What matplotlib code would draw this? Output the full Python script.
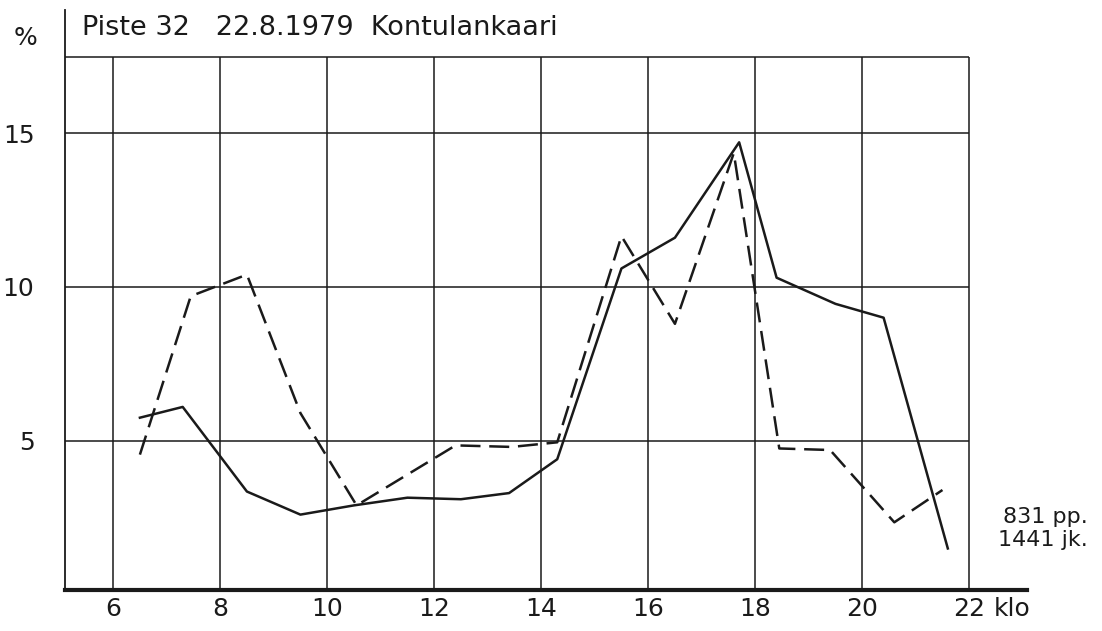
import numpy as np
import matplotlib.pyplot as plt
import matplotlib

# hourly shares (%)
hours_solid = [6.5, 7.3, 8.5, 9.5, 10.5, 11.5, 12.5, 13.4, 14.3, 15.5, 16.5, 17.7, 18.4, 19.5, 20.4, 21.6]
pct_solid = [5.75, 6.1, 3.35, 2.6, 2.9, 3.15, 3.1, 3.3, 4.4, 10.6, 11.6, 14.7, 10.3, 9.45, 9.0, 1.5]

hours_dash = [6.5, 7.45, 8.5, 9.5, 10.55, 12.4, 13.45, 14.3, 15.5, 16.5, 17.6, 18.45, 19.4, 20.6, 21.5]
pct_dash = [4.55, 9.7, 10.4, 5.9, 2.9, 4.85, 4.8, 4.95, 11.65, 8.8, 14.35, 4.75, 4.7, 2.35, 3.4]

xticks = [6, 8, 10, 12, 14, 16, 18, 20, 22]
yticks = [5, 10, 15]

font = {'size': 18, 'family': ['DejaVu Sans']}
matplotlib.rc('font', **font)

fig = plt.figure(figsize=(11.02, 6.31), dpi=100)
ax = fig.add_axes([65 / 1102, 1 - 590 / 631, (1027 - 65) / 1102, 580 / 631])

ax.set_xlim(5.1, 23.08)
ax.set_ylim(0.15, 19.0)

ink = '#1a1a1a'
# grid frame
ax.hlines(yticks + [17.47], 5.1, 22, color=ink, lw=1.1)
ax.vlines(xticks, 0.15, 17.47, color=ink, lw=1.1)

ax.plot(hours_solid, pct_solid, color=ink, lw=1.8)
ax.plot(hours_dash, pct_dash, color=ink, lw=1.8, dashes=(8, 3.5))

ax.spines['top'].set_visible(False)
ax.spines['right'].set_visible(False)
ax.spines['left'].set_linewidth(1.3)
ax.spines['left'].set_color(ink)
ax.spines['bottom'].set_linewidth(3)
ax.spines['bottom'].set_color(ink)

ax.set_xticks(xticks)
ax.set_yticks(yticks)
ax.tick_params(axis='x', length=0, pad=5, colors=ink)
ax.tick_params(axis='y', length=0, pad=22, colors=ink)

ax.text(22.45, -0.08, 'klo', ha='left', va='top', color=ink)

fig.text(82 / 1102, 1 - 28 / 631, 'Piste 32   22.8.1979  Kontulankaari', ha='left', va='center',
         color=ink, fontsize=19.5)
fig.text(14 / 1102, 1 - 38 / 631, '%', ha='left', va='center', color=ink)
fig.text(1088 / 1102, 1 - 517 / 631, '831 pp.', ha='right', va='center', color=ink, fontsize=16)
fig.text(1088 / 1102, 1 - 540 / 631, '1441 jk.', ha='right', va='center', color=ink, fontsize=16)

plt.savefig('out.png', dpi=100)
